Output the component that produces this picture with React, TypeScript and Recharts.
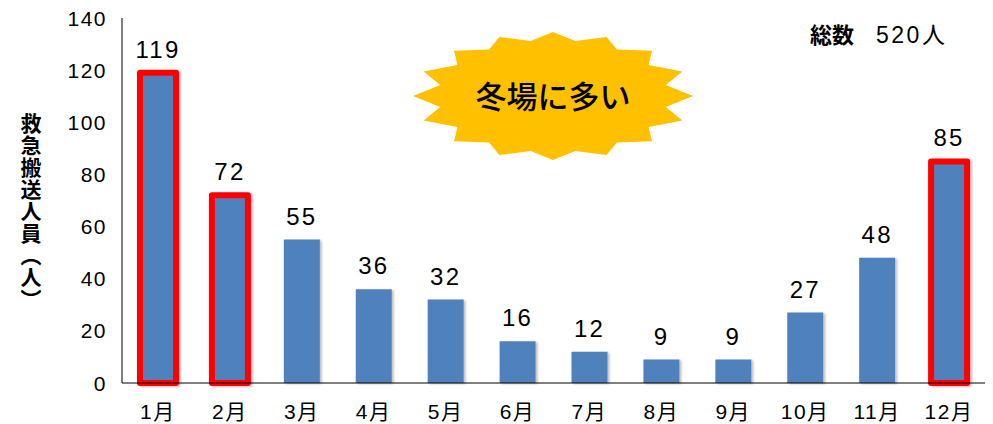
import React from 'react';
import { BarChart, Bar, XAxis, YAxis, Cell, LabelList } from 'recharts';

const months = ['1月', '2月', '3月', '4月', '5月', '6月', '7月', '8月', '9月', '10月', '11月', '12月'];
const transports = [119, 72, 55, 36, 32, 16, 12, 9, 9, 27, 48, 85];
const highlighted = ['1月', '2月', '12月'];
const yTicks = [0, 20, 40, 60, 80, 100, 120, 140];
const totalLabel = '総数';
const totalValue = '520人';
const calloutText = '冬場に多い';
const yAxisTitle = '救急搬送人員（人）';

const data = months.map((m, i) => ({ month: m, value: transports[i] }));

const NUM_FONT = '"Liberation Sans", Arial, "Noto Sans CJK JP", sans-serif';
const JP_FONT = '"Noto Sans CJK JP", "Noto Sans", sans-serif';

const YTick = (props: any) => {
    const { x, y, payload } = props;
    return (
        <text x={x} y={y} dy="0.36em" textAnchor="end" fontFamily={NUM_FONT} fontSize={21} letterSpacing={1.5} fill="#000">
            {payload.value}
        </text>
    );
};

const XTick = (props: any) => {
    const { x, y, payload } = props;
    return (
        <text x={x} y={y} dy="0.36em" textAnchor="middle" fontFamily={NUM_FONT} fontSize={21} letterSpacing={1.5} fill="#000">
            {payload.value}
        </text>
    );
};

const ValueLabel = (props: any) => {
    const { x, y, width, value } = props;
    return (
        <text x={x + width / 2} y={y - 15} textAnchor="middle" fontFamily={NUM_FONT} fontSize={24} letterSpacing={2.2} fill="#000">
            {value}
        </text>
    );
};

// starburst callout shape (16 points on an ellipse)
const starPoints = (cx: number, cy: number, rx: number, ry: number, irx: number, iry: number, n: number) => {
    const pts: string[] = [];
    for (let i = 0; i < n * 2; i++) {
        const a = (Math.PI * i) / n;
        const outer = i % 2 === 0;
        const px = cx + (outer ? rx : irx) * Math.sin(a);
        const py = cy - (outer ? ry : iry) * Math.cos(a);
        pts.push(`${px.toFixed(1)},${py.toFixed(1)}`);
    }
    return pts.join(' ');
};

const App: React.FC = () => {
    return (
        <div style={{ position: 'absolute', left: 0, top: 0, width: 993, height: 424, background: '#fff', overflow: 'hidden' }}>
            <BarChart
                width={993}
                height={424}
                data={data}
                margin={{ top: 18, right: 8, bottom: 0, left: 0 }}
            >
                <defs>
                    <filter id="barShadow" x="-20%" y="-20%" width="140%" height="140%">
                        <feDropShadow dx="2" dy="1" stdDeviation="1.2" floodColor="#000" floodOpacity="0.25" />
                    </filter>
                </defs>
                <XAxis
                    dataKey="month"
                    height={41}
                    axisLine={{ stroke: '#000', strokeWidth: 1 }}
                    tickLine={false}
                    tickSize={0}
                    tickMargin={28}
                    tick={<XTick />}
                    interval={0}
                />
                <YAxis
                    width={122}
                    domain={[0, 140]}
                    ticks={yTicks}
                    axisLine={{ stroke: '#000', strokeWidth: 1 }}
                    tickLine={false}
                    tickSize={0}
                    tickMargin={15}
                    tick={<YTick />}
                    interval={0}
                />
                <Bar dataKey="value" barSize={36} fill="#4F81BD" isAnimationActive={false} style={{ filter: 'url(#barShadow)' }}>
                    {data.map((d) => {
                        const hi = highlighted.includes(d.month);
                        return (
                            <Cell
                                key={d.month}
                                fill="#4F81BD"
                                stroke={hi ? '#FF0000' : 'none'}
                                strokeWidth={hi ? 6 : 0}
                                strokeLinejoin="round"
                            />
                        );
                    })}
                    <LabelList dataKey="value" content={<ValueLabel />} />
                </Bar>
            </BarChart>

            <svg width={993} height={424} style={{ position: 'absolute', left: 0, top: 0, pointerEvents: 'none' }}>
                <polygon points={starPoints(553, 96, 140, 64, 115, 56, 16)} fill="#FFC000" />
                <text x={553} y={97} dy="0.36em" textAnchor="middle" fontFamily={JP_FONT} fontSize={31} fontWeight={500} fill="#000">
                    {calloutText}
                </text>
                <text x={810} y={43} fontFamily={JP_FONT} fontSize={22} fill="#000">
                    <tspan fontWeight={700}>{totalLabel}</tspan>
                    <tspan dx={22} fontFamily={NUM_FONT} fontSize={23} letterSpacing={2.5}>{totalValue}</tspan>
                </text>
            </svg>

            <div
                style={{
                    position: 'absolute',
                    left: 20,
                    top: 113,
                    writingMode: 'vertical-rl',
                    fontFamily: JP_FONT,
                    fontSize: 21,
                    fontWeight: 700,
                    letterSpacing: 1,
                    lineHeight: '22px',
                    color: '#000',
                }}
            >
                {yAxisTitle}
            </div>
        </div>
    );
};

export default App;
